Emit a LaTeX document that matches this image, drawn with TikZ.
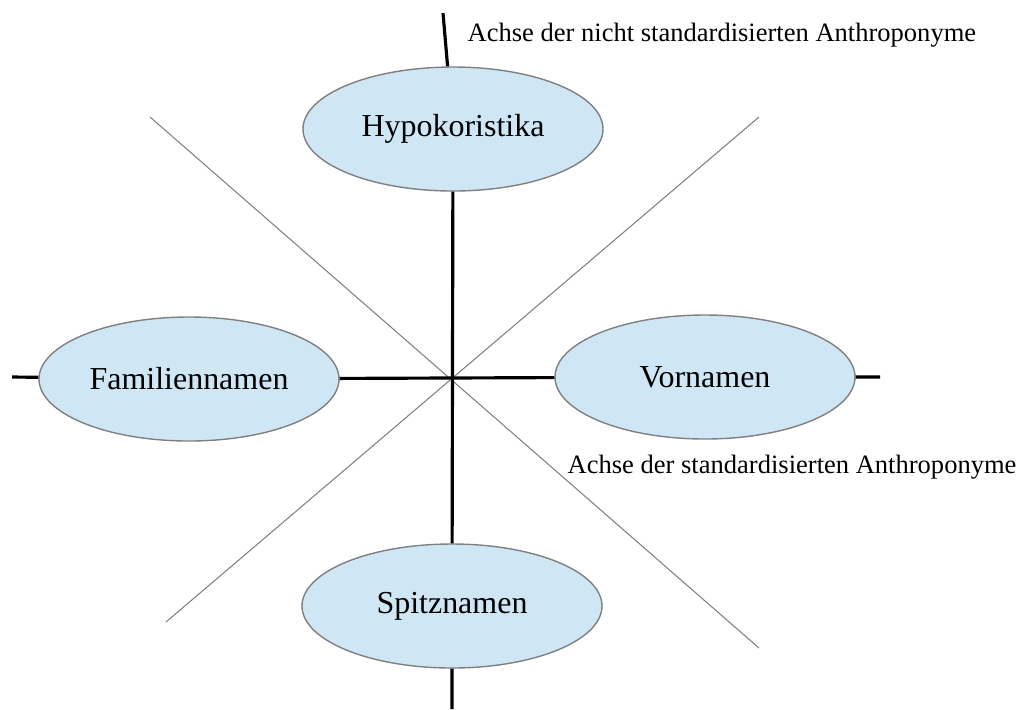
\documentclass[tikz,border=0pt]{standalone}
\usepackage{fontspec}
\setmainfont{Liberation Serif}
\usetikzlibrary{shapes.geometric,positioning}
\definecolor{feld}{RGB}{207,231,245}
\definecolor{rand}{RGB}{128,128,128}

\begin{document}
\begin{tikzpicture}[
    namenfeld/.style={ellipse, draw=rand, line width=0.4pt, fill=feld,
        minimum width=3cm, minimum height=1.24cm, inner sep=0pt,
        font=\fontsize{9.1}{11}\selectfont},
    achse/.style={line width=0.9pt, black},
    diagonale/.style={line width=0.3pt, rand},
    achsentext/.style={anchor=west, inner sep=0pt, font=\fontsize{7.55}{9}\selectfont}]
    \useasboundingbox (0,0) rectangle (10.18,-7.09);

    \coordinate (c) at (4.49,-3.77);
    \node[namenfeld] (hypo) [above=2.48cm of c, anchor=center, xshift=0.04cm] {Hypokoristika};
    \node[namenfeld] (fam) [left=2.60cm of c, anchor=center, yshift=-0.02cm] {Familiennamen};
    \node[namenfeld] (vor) [right=2.56cm of c, anchor=center] {Vornamen};
    \node[namenfeld] (spitz) [below=2.29cm of c, anchor=center, xshift=0.03cm] {Spitznamen};

    % Achsenenden
    \coordinate (oben) at (4.43,-0.13);
    \coordinate (unten) at (4.52,-7.09);
    \coordinate (links) at (0.12,-3.77);
    \coordinate (rechts) at (8.80,-3.77);

    % Diagonalen
    \coordinate (d1) at (1.50,-1.17);
    \coordinate (d2) at (7.59,-1.17);
    \coordinate (d3) at (7.59,-6.48);
    \coordinate (d4) at (1.66,-6.22);
    \draw[diagonale] (d1) -- (d3);
    \draw[diagonale] (d2) -- (d4);

    \draw[achse] (oben) -- (hypo) (hypo) -- (spitz) (spitz) -- (unten);
    \draw[achse] (links) -- (fam) (fam) -- (vor) (vor) -- (rechts);

    \node[achsentext] (nst) at (4.67,-0.35) {Achse der nicht standardisierten Anthroponyme};
    \node[achsentext] (st) at (5.67,-4.67) {Achse der standardisierten Anthroponyme};
\end{tikzpicture}
\end{document}
